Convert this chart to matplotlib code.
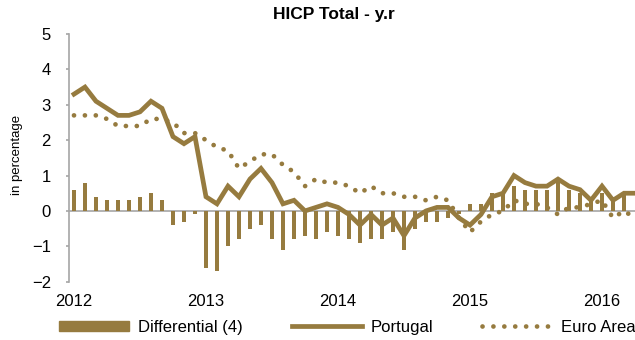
import matplotlib
matplotlib.use("Agg")
import matplotlib.pyplot as plt
from matplotlib.patches import Patch
from matplotlib.lines import Line2D

plt.rcParams["font.family"] = ["Liberation Sans", "DejaVu Sans"]

# monthly y/y rates, Jan 2012 onwards
portugal = [3.3, 3.5, 3.1, 2.9, 2.7, 2.7, 2.8, 3.1, 2.9, 2.1, 1.9, 2.1,
            0.4, 0.2, 0.7, 0.4, 0.9, 1.2, 0.8, 0.2, 0.3, 0.0, 0.1, 0.2,
            0.1, -0.1, -0.4, -0.1, -0.4, -0.2, -0.7, -0.2, 0.0, 0.1, 0.1, -0.2,
            -0.4, -0.1, 0.4, 0.5, 1.0, 0.8, 0.7, 0.7, 0.9, 0.7, 0.6, 0.3,
            0.7, 0.3, 0.5, 0.5]
euro_area = [2.7, 2.7, 2.7, 2.6, 2.4, 2.4, 2.4, 2.6, 2.6, 2.5, 2.2, 2.2,
             2.0, 1.8, 1.7, 1.2, 1.4, 1.6, 1.6, 1.3, 1.1, 0.7, 0.9, 0.8,
             0.8, 0.7, 0.5, 0.7, 0.5, 0.5, 0.4, 0.4, 0.3, 0.4, 0.3, -0.2,
             -0.6, -0.3, -0.1, 0.0, 0.3, 0.2, 0.2, 0.1, -0.1, 0.1, 0.1, 0.2,
             0.3, -0.2, 0.0, -0.2]
differential = [0.6, 0.8, 0.4, 0.3, 0.3, 0.3, 0.4, 0.5, 0.3, -0.4, -0.3, -0.1,
                -1.6, -1.7, -1.0, -0.8, -0.5, -0.4, -0.8, -1.1, -0.8, -0.7, -0.8, -0.6,
                -0.7, -0.8, -0.9, -0.8, -0.8, -0.6, -1.1, -0.5, -0.3, -0.3, -0.2, -0.1,
                0.2, 0.2, 0.5, 0.5, 0.7, 0.6, 0.6, 0.6, 0.9, 0.6, 0.5, 0.3,
                0.5, 0.4, 0.5]
year_labels = ["2012", "2013", "2014", "2015", "2016"]

gold = "#967b3f"
grey = "#a6a6a6"
dots = (0, (0.01, 2.3))

fig = plt.figure(figsize=(6.35, 3.4), dpi=100)
ax = fig.add_axes([0.1087, 0.1715, 0.8913, 0.7285])

ax.axhline(0, color=grey, lw=1.2, zorder=1)
ax.bar(range(len(differential)), differential, width=0.38, color=gold, zorder=2)
ax.plot(range(len(portugal)), portugal, color=gold, lw=3.4,
        solid_joinstyle="miter", zorder=3)
ax.plot(range(len(euro_area)), euro_area, color=gold, lw=3.4,
        linestyle=dots, dash_capstyle="round", zorder=3)

ax.set_xlim(-0.45, 51)
ax.set_ylim(-2, 5)
ax.set_yticks(range(-2, 6))
ax.set_xticks(range(0, 12 * len(year_labels), 12))
ax.set_xticklabels(year_labels)

for side in ["top", "right", "bottom"]:
    ax.spines[side].set_visible(False)
ax.spines["left"].set_color(grey)
ax.spines["left"].set_linewidth(1.2)
ax.tick_params(axis="y", direction="out", length=2.5, width=1.2, color=grey,
               labelsize=12, pad=10.5)
ax.tick_params(axis="x", length=0, labelsize=12, pad=9)

fig.text(334 / 635, 1 - 15 / 340, "HICP Total - y.r", ha="center", va="center",
         fontsize=12.5, fontweight="bold")
fig.text(17 / 635, 1 - 155 / 340, "in percentage", rotation=90, ha="center",
         va="center", fontsize=9.5)

handles = [
    Patch(color=gold),
    Line2D([], [], color=gold, lw=3.4),
    Line2D([], [], color=gold, lw=3.4, linestyle=dots, dash_capstyle="round"),
]
fig.legend(handles, ["Differential (4)", "Portugal", "Euro Area"], ncol=3,
           loc="center", bbox_to_anchor=(0.547, 0.038), frameon=False,
           fontsize=12, handlelength=4.2, handleheight=0.55,
           handletextpad=0.55, columnspacing=2.9, borderpad=0, borderaxespad=0)

fig.savefig("out.png", dpi=100)
